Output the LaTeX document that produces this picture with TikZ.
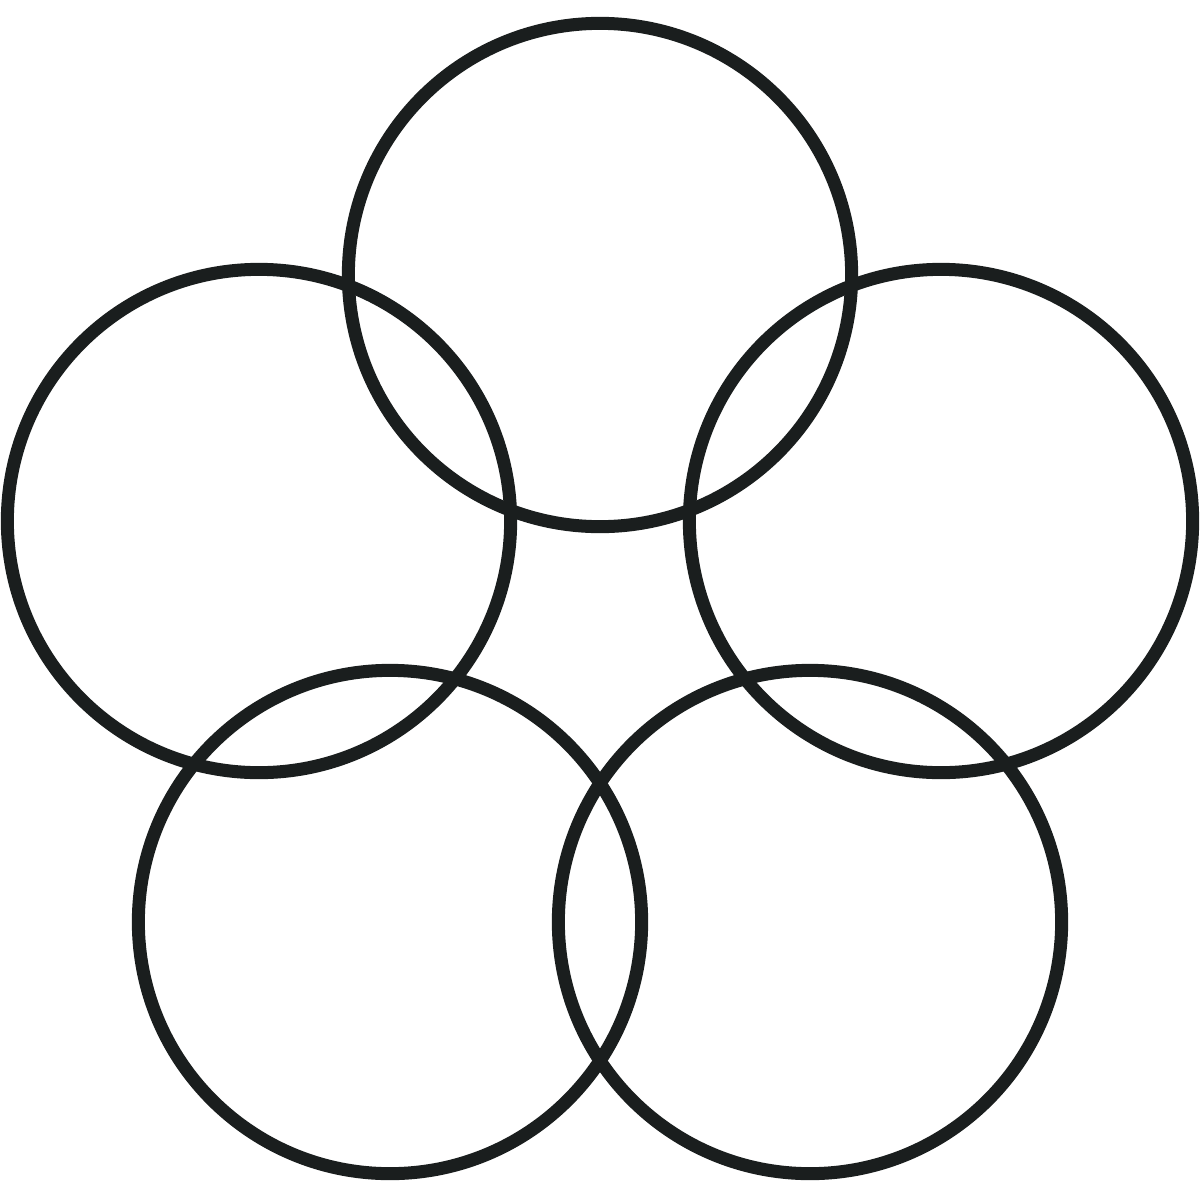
\documentclass[tikz,border=0pt]{standalone}
\usepackage{tikz}
\definecolor{ringink}{HTML}{1A1E1E}
\tikzstyle{ring} = [draw=ringink, circle, line width=3.7pt, inner sep=0pt,
minimum size=5.03cm]

\begin{document}
\begin{tikzpicture}[x=0.01cm, y=-0.01cm]

	\useasboundingbox (0,0) rectangle (1200,1200);

	\node [ring] (top ring) at (600,275) {};
	\node [ring] (left ring) at (259,521) {};
	\node [ring] (right ring) at (941,521) {};
	\node [ring] (bottom left ring) at (390,922) {};
	\node [ring] (bottom right ring) at (810,922) {};

\end{tikzpicture}
\end{document}
